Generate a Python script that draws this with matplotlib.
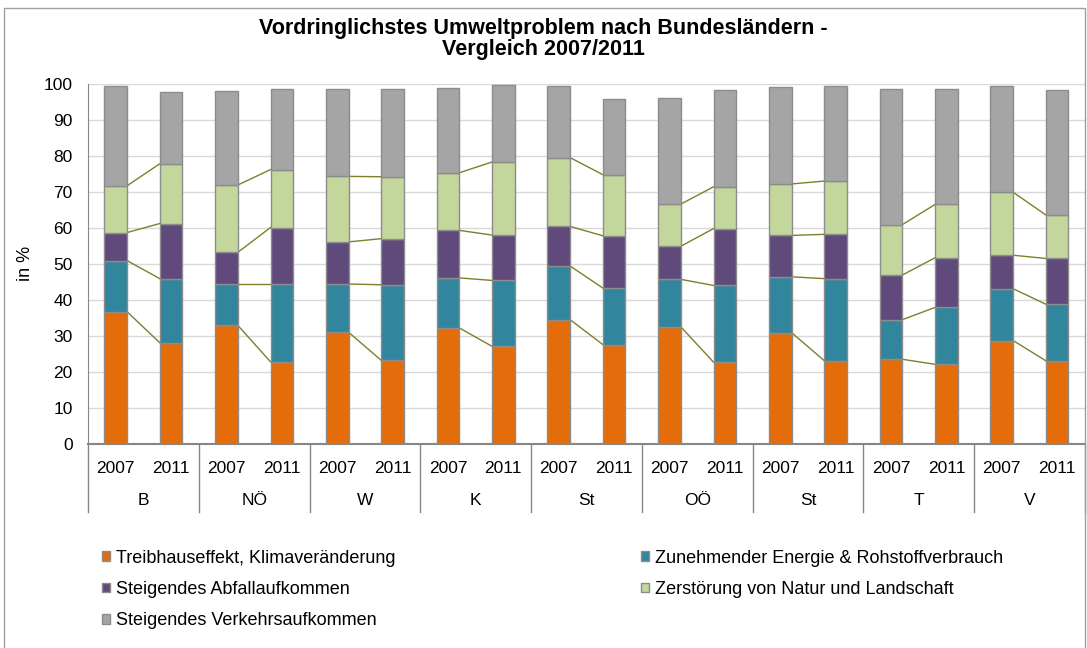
import matplotlib.pyplot as plt
import numpy as np
from matplotlib.patches import Rectangle
from matplotlib.transforms import blended_transform_factory

plt.rcParams['font.family'] = ['Liberation Sans', 'DejaVu Sans']

# Bundeslaender and years (two bars per group)
regions = ['B', 'NÖ', 'W', 'K', 'St', 'OÖ', 'St', 'T', 'V']
years = ['2007', '2011']

# cumulative tops (in %), order: 2007, 2011 per region
top_treibhaus = [36.7, 28.1, 32.9, 22.8, 31.0, 23.2, 32.2, 27.1, 34.5, 27.6,
                 32.5, 22.7, 30.9, 23.1, 23.5, 22.1, 28.7, 23.1]
top_energie = [50.9, 45.9, 44.3, 44.3, 44.4, 44.2, 46.1, 45.4, 49.4, 43.3,
               45.7, 44.0, 46.4, 45.9, 34.5, 37.9, 43.1, 38.8]
top_abfall = [58.7, 61.2, 53.2, 60.1, 56.1, 57.0, 59.3, 58.0, 60.4, 57.8,
              54.9, 59.8, 57.9, 58.2, 46.9, 51.7, 52.4, 51.5]
top_natur = [71.7, 77.8, 71.9, 76.2, 74.3, 74.2, 75.3, 78.3, 79.5, 74.8,
             66.6, 71.4, 72.2, 73.0, 60.9, 66.5, 69.9, 63.6]
top_verkehr = [99.4, 97.6, 97.9, 98.7, 98.5, 98.6, 98.9, 99.6, 99.5, 95.8,
               96.1, 98.4, 99.2, 99.5, 98.7, 98.6, 99.3, 98.2]

series_names = ['Treibhauseffekt, Klimaveränderung',
                'Zunehmender Energie & Rohstoffverbrauch',
                'Steigendes Abfallaufkommen',
                'Zerstörung von Natur und Landschaft',
                'Steigendes Verkehrsaufkommen']
colors = ['#E46C0A', '#31859C', '#604A7B', '#C3D69B', '#A5A5A5']

tops = np.array([top_treibhaus, top_energie, top_abfall, top_natur, top_verkehr])
bottoms = np.vstack([np.zeros(tops.shape[1]), tops[:-1]])
heights = tops - bottoms

fig = plt.figure(figsize=(10.87, 6.48), dpi=100)
ax = fig.add_axes([0.081, 0.315, 0.917, 0.5556])

x = np.arange(len(top_treibhaus))
w = 0.41
handles = []
for i in range(5):
    b = ax.bar(x, heights[i], w, bottom=bottoms[i], color=colors[i],
               edgecolor='#8C8C8C', linewidth=1, zorder=3, label=series_names[i])
    handles.append(b)

# series lines between 2007 and 2011 bars
for g in range(len(regions)):
    i0, i1 = 2 * g, 2 * g + 1
    for s in range(4):
        ax.plot([i0 + w / 2, i1 - w / 2], [tops[s, i0], tops[s, i1]],
                color='#7F7F2A', linewidth=1, zorder=2)

ax.set_xlim(-0.5, len(x) - 0.5)
ax.set_ylim(0, 100)
ax.set_yticks(range(0, 101, 10))
ax.yaxis.grid(True, color='#D9D9D9', linewidth=1)
ax.set_axisbelow(True)
ax.tick_params(axis='y', length=0, labelsize=12.5, pad=11)
ax.set_ylabel('in %', fontsize=13, labelpad=7)

for side in ['top', 'right']:
    ax.spines[side].set_visible(False)
ax.spines['left'].set_color('#868686')
ax.spines['bottom'].set_color('#868686')
ax.spines['bottom'].set_linewidth(1.5)

ax.set_xticks(x)
ax.set_xticklabels(years * len(regions), fontsize=12.5)
ax.tick_params(axis='x', length=0, pad=12)

trans = blended_transform_factory(ax.transData, ax.transAxes)
for g, r in enumerate(regions):
    ax.text(2 * g + 0.5, -0.158, r, transform=trans, ha='center', va='center',
            fontsize=12.5)
for k in range(len(regions) + 1):
    ax.plot([2 * k - 0.5, 2 * k - 0.5], [0, -0.189], transform=trans,
            color='#868686', linewidth=1, clip_on=False)

fig.suptitle('Vordringlichstes Umweltproblem nach Bundesländern -\nVergleich 2007/2011',
             fontsize=15.5, fontweight='bold', y=0.972, va='top', linespacing=1.0)

leg_kw = dict(frameon=False, fontsize=13, handlelength=0.45, handleheight=0.45,
              handletextpad=0.33, labelspacing=0.8, borderpad=0, borderaxespad=0)
fig.legend([handles[0], handles[2], handles[4]],
           [series_names[0], series_names[2], series_names[4]],
           loc='upper left', bbox_to_anchor=(102 / 1087, 0.152), **leg_kw)
fig.legend([handles[1], handles[3]], [series_names[1], series_names[3]],
           loc='upper left', bbox_to_anchor=(641 / 1087, 0.152), **leg_kw)

fig.patches.append(Rectangle((0.0037, -0.01), 0.9945, 0.9977, transform=fig.transFigure,
                             fill=False, edgecolor='#A0A0A0', linewidth=1))

fig.savefig('out.png', dpi=100)
